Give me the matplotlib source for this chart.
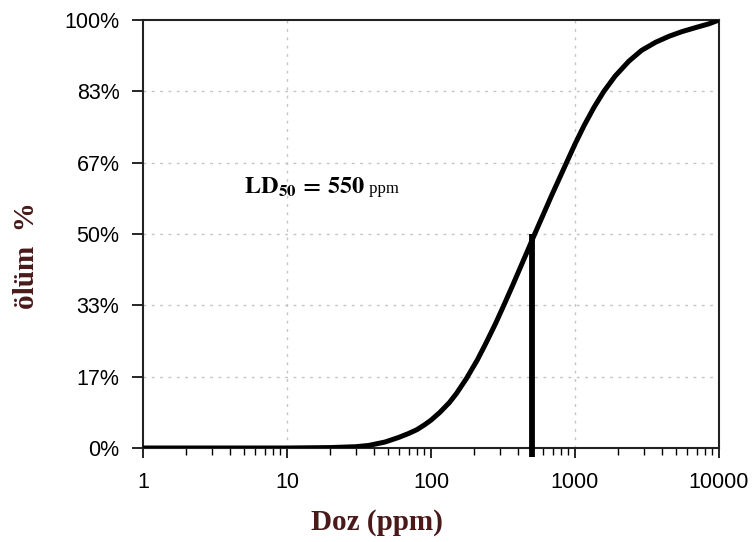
import numpy as np
import matplotlib.pyplot as plt
from matplotlib.ticker import FixedLocator, FixedFormatter, LogLocator, NullFormatter

# Dose (ppm) and mortality (%)
doz = [1, 10, 20, 30, 37, 48, 60, 70, 80, 90, 100, 115, 134, 150, 176, 210,
       240, 280, 321, 370, 420, 470, 525, 627, 690, 760, 885, 1000, 1155,
       1350, 1585, 1900, 2370, 2900, 3630, 4500, 5550, 7000, 8500, 10000]
olum = [0.0, 0.0, 0.1, 0.3, 0.6, 1.4, 2.5, 3.4, 4.3, 5.4, 6.5, 8.3, 10.6,
        12.7, 16.2, 20.6, 24.4, 29.0, 33.4, 38.1, 42.4, 46.2, 50.0, 55.9,
        59.1, 62.2, 67.1, 71.0, 75.3, 79.5, 83.3, 86.9, 90.4, 92.9, 94.8,
        96.2, 97.3, 98.3, 99.1, 100.0]

ld_x, ld_y = 505, 50

x_ticks = [1, 10, 100, 1000, 10000]
x_labels = ["1", "10", "100", "1000", "10000"]
y_ticks = [0, 100 / 6, 200 / 6, 50, 400 / 6, 500 / 6, 100]
y_labels = ["0%", "17%", "33%", "50%", "67%", "83%", "100%"]
grid_x = [10, 1000]

label_color = "#4a1a1a"

fig = plt.figure(figsize=(7.55, 5.42), dpi=100, facecolor="white")
ax = fig.add_axes([143 / 755, 94 / 542, 576 / 755, 428 / 542])

ax.set_xscale("log")
ax.set_xlim(1, 10000)
ax.set_ylim(0, 100)

# grid
for gy in y_ticks[1:-1]:
    ax.axhline(gy, color="#c4c4c4", lw=1.0, ls=(0, (2, 4)), zorder=1)
for gx in grid_x:
    ax.axvline(gx, color="#c4c4c4", lw=1.0, ls=(0, (2, 4)), zorder=1)

# curve and LD50 marker
ax.plot(doz, olum, color="black", lw=3.6, solid_capstyle="butt",
        solid_joinstyle="round", zorder=3)
ax.vlines(ld_x, -2, ld_y, color="black", lw=4.2, clip_on=False, zorder=3)

# ticks
ax.xaxis.set_major_locator(FixedLocator(x_ticks))
ax.xaxis.set_major_formatter(FixedFormatter(x_labels))
ax.xaxis.set_minor_locator(LogLocator(base=10, subs=np.arange(2, 10)))
ax.xaxis.set_minor_formatter(NullFormatter())
ax.yaxis.set_major_locator(FixedLocator(y_ticks))
ax.yaxis.set_major_formatter(FixedFormatter(y_labels))

ax.tick_params(axis="x", which="major", length=7, width=1.2, direction="out", pad=10)
ax.tick_params(axis="x", which="minor", length=5, width=1.0, direction="out")
ax.tick_params(axis="y", which="major", length=8, width=1.2, direction="out", pad=9)
for lbl in ax.get_xticklabels() + ax.get_yticklabels():
    lbl.set_fontfamily("Liberation Sans")
    lbl.set_fontsize(15.5)

for sp in ax.spines.values():
    sp.set_linewidth(1.5)
    sp.set_color("#222222")

# annotation
plt.rcParams["mathtext.fontset"] = "stix"
t = ax.text(0.175, 0.595, r"$\mathbf{LD_{50}}\,\mathbf{=}\,\mathbf{550}$",
            transform=ax.transAxes, fontsize=17.5, color="black",
            ha="left", va="baseline")
ax.annotate(" ppm", xy=(1, 0.06), xycoords=t, fontsize=12,
            fontfamily="Liberation Serif", va="bottom", ha="left")

# axis labels
fig.text(377 / 755, 1 - 522 / 542, "Doz (ppm)", ha="center", va="center",
         fontsize=21, fontweight="bold", fontfamily="Liberation Serif",
         color=label_color)
fig.text(26 / 755, 1 - 256 / 542, "ölüm  %", ha="center", va="center",
         rotation=90, fontsize=21, fontweight="bold",
         fontfamily="Liberation Serif", color=label_color)

plt.savefig("out.png", dpi=100)
